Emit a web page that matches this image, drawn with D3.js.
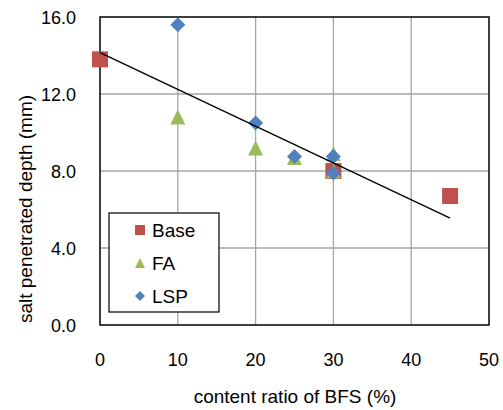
<!DOCTYPE html>
<html>
<head>
<meta charset="utf-8">
<script src="https://cdn.jsdelivr.net/npm/d3@7"></script>
<style>
    body { margin: 0; background: #fff; }
    text { font-family: Arial, "Liberation Sans", sans-serif; fill: #000; }
</style>
</head>
<body>
<div class="chart"></div>
<script>
// data: [content ratio, depth]
const base_points = [[0, 13.8], [30, 8.0], [45, 6.7]]
const fa_points = [[10, 10.8], [20, 9.2], [25, 8.7], [30, 8.9], [30, 8.0]]
const lsp_points = [[10, 15.6], [20, 10.5], [25, 8.75], [30, 8.75], [30, 7.9]]

// linear trend line, ends
const trend_line = [[0, 14.15], [45, 5.55]]

const x_ticks = [0, 10, 20, 30, 40, 50]
const y_ticks = [0, 4, 8, 12, 16]

const series_names = ["Base", "FA", "LSP"]
const series_colours = ["#C0504D", "#9BBB59", "#4F81BD"]

function drawChart() {

    const width = 503
    const height = 410
    const margin = { top: 17, right: 14, bottom: 85, left: 100 }

    const svg = d3.select(".chart")
        .append("svg")
        .attr("width", width)
        .attr("height", height)

    const x = d3.scaleLinear()
        .domain([0, 50])
        .range([margin.left, width - margin.right])

    const y = d3.scaleLinear()
        .domain([0, 16])
        .range([height - margin.bottom, margin.top])

    // grid
    svg.append("g")
        .selectAll("line")
        .data(x_ticks.slice(1, -1))
        .join("line")
        .attr("x1", d => x(d))
        .attr("x2", d => x(d))
        .attr("y1", y(0))
        .attr("y2", y(16))
        .attr("stroke", "#a6a6a6")
        .attr("stroke-width", 1.3)

    svg.append("g")
        .selectAll("line")
        .data(y_ticks.slice(1, -1))
        .join("line")
        .attr("x1", x(0))
        .attr("x2", x(50))
        .attr("y1", d => y(d))
        .attr("y2", d => y(d))
        .attr("stroke", "#a6a6a6")
        .attr("stroke-width", 1.3)

    // plot border
    svg.append("rect")
        .attr("x", x(0))
        .attr("y", y(16))
        .attr("width", x(50) - x(0))
        .attr("height", y(0) - y(16))
        .attr("fill", "none")
        .attr("stroke", "#000")
        .attr("stroke-width", 1.5)

    // tick labels
    svg.append("g")
        .selectAll("text")
        .data(y_ticks)
        .join("text")
        .attr("x", 76)
        .attr("y", d => y(d) + 7)
        .attr("text-anchor", "end")
        .style("font-size", "18px")
        .text(d => d3.format(".1f")(d))

    svg.append("g")
        .selectAll("text")
        .data(x_ticks)
        .join("text")
        .attr("x", d => x(d))
        .attr("y", 366)
        .attr("text-anchor", "middle")
        .style("font-size", "18px")
        .text(d => d)

    // axis titles
    svg.append("text")
        .attr("x", 295)
        .attr("y", 403)
        .attr("text-anchor", "middle")
        .style("font-size", "19px")
        .text("content ratio of BFS (%)")

    svg.append("text")
        .attr("transform", "translate(32,209) rotate(-90)")
        .attr("text-anchor", "middle")
        .style("font-size", "19px")
        .text("salt penetrated depth (mm)")

    // markers
    const square = (cx, cy, s) => `M${cx - s / 2},${cy - s / 2}h${s}v${s}h${-s}Z`
    const triangle = (cx, cy, s) => `M${cx},${cy - s / 2}L${cx + s / 2},${cy + s / 2}L${cx - s / 2},${cy + s / 2}Z`
    const diamond = (cx, cy, s) => `M${cx},${cy - s / 2}L${cx + s / 2},${cy}L${cx},${cy + s / 2}L${cx - s / 2},${cy}Z`
    const shapes = [square, triangle, diamond]
    const sizes = [16, 15, 15]

    const all_series = [base_points, fa_points, lsp_points]

    all_series.forEach((pts, i) => {
        svg.append("g")
            .selectAll("path")
            .data(pts)
            .join("path")
            .attr("d", d => shapes[i](x(d[0]), y(d[1]), sizes[i]))
            .attr("fill", series_colours[i])
    })

    // trend line
    svg.append("path")
        .datum(trend_line)
        .attr("d", d3.line().x(d => x(d[0])).y(d => y(d[1])))
        .attr("fill", "none")
        .attr("stroke", "#000")
        .attr("stroke-width", 1.4)

    // legend
    const legend = svg.append("g")
        .attr("transform", "translate(109,213)")

    legend.append("rect")
        .attr("width", 110)
        .attr("height", 99)
        .attr("fill", "#fff")
        .attr("stroke", "#000")
        .attr("stroke-width", 1.2)

    const legend_sizes = [10, 10, 10]

    series_names.forEach((name, i) => {
        const cy = 17 + i * 33
        legend.append("path")
            .attr("d", shapes[i](31, cy, legend_sizes[i]))
            .attr("fill", series_colours[i])
        legend.append("text")
            .attr("x", 43)
            .attr("y", cy + 7)
            .style("font-size", "19px")
            .text(name)
    })
}

drawChart()
</script>
</body>
</html>
